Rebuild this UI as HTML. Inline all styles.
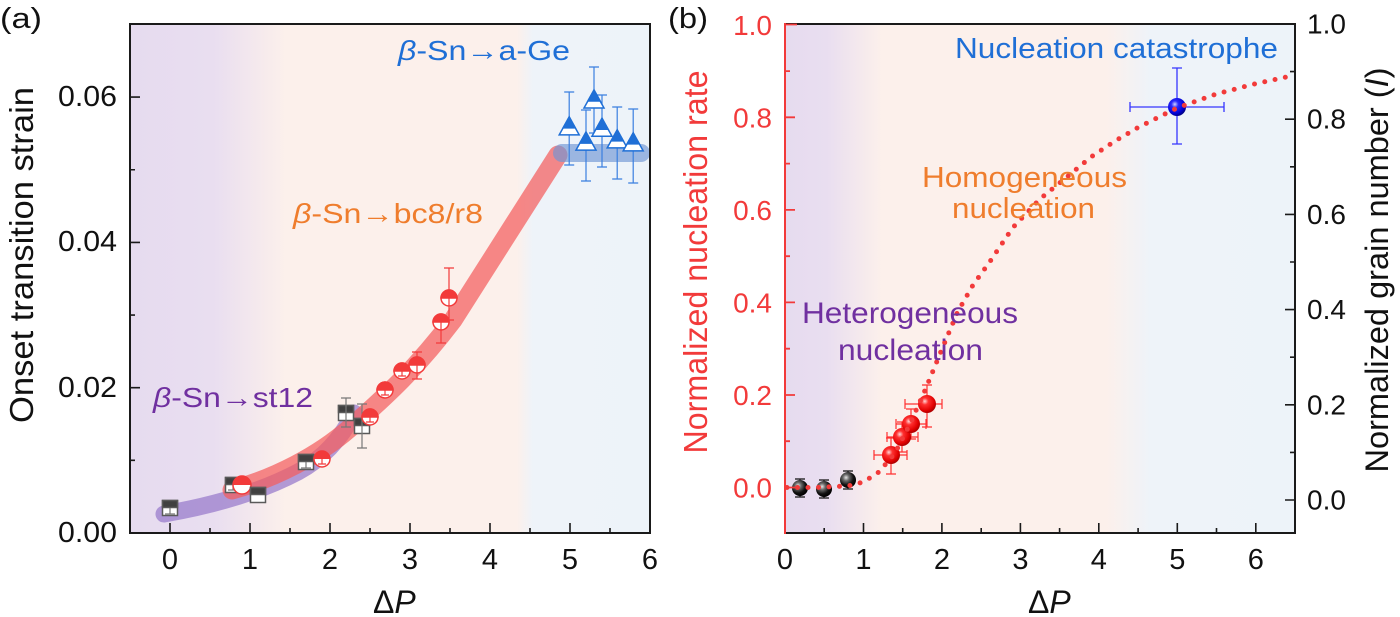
<!DOCTYPE html>
<html><head><meta charset="utf-8"><style>
html,body{margin:0;padding:0;background:#fff;}
svg{display:block;font-family:"Liberation Sans",Arial,sans-serif;}
</style></head><body>
<svg width="1400" height="617" viewBox="0 0 1400 617" xmlns="http://www.w3.org/2000/svg">
<defs>
<linearGradient id="bga" x1="0" x2="1" y1="0" y2="0">
<stop offset="0" stop-color="#e6dbef"/><stop offset="0.16" stop-color="#e9def0"/>
<stop offset="0.30" stop-color="#fcf0eb"/><stop offset="0.744" stop-color="#fcf0eb"/>
<stop offset="0.775" stop-color="#eef3f9"/><stop offset="1" stop-color="#edf3f9"/>
</linearGradient>
<linearGradient id="bgb" x1="0" x2="1" y1="0" y2="0">
<stop offset="0" stop-color="#e6dbef"/><stop offset="0.082" stop-color="#e9def0"/>
<stop offset="0.19" stop-color="#fcf0eb"/><stop offset="0.63" stop-color="#fcf0eb"/>
<stop offset="0.716" stop-color="#eef3f9"/><stop offset="1" stop-color="#edf3f9"/>
</linearGradient>
<radialGradient id="gk" cx="0.38" cy="0.35" r="0.65">
<stop offset="0" stop-color="#e8e8e8"/><stop offset="0.3" stop-color="#6a6a6a"/><stop offset="0.7" stop-color="#111"/><stop offset="1" stop-color="#000"/>
</radialGradient>
<radialGradient id="gr" cx="0.38" cy="0.35" r="0.65">
<stop offset="0" stop-color="#ffd6d6"/><stop offset="0.3" stop-color="#ff3030"/><stop offset="0.8" stop-color="#e00000"/><stop offset="1" stop-color="#b00000"/>
</radialGradient>
<radialGradient id="gb" cx="0.38" cy="0.35" r="0.65">
<stop offset="0" stop-color="#d0d4ff"/><stop offset="0.3" stop-color="#2a2aff"/><stop offset="0.8" stop-color="#0000d0"/><stop offset="1" stop-color="#00008a"/>
</radialGradient>
</defs>

<!-- ============ PANEL A ============ -->
<rect x="130" y="24" width="520" height="509" fill="url(#bga)"/>

<!-- bands -->
<path d="M164,514 C210,506 258,493 298,472 C324,458 342,437 354,413" fill="none" stroke="#9a7ccc" stroke-opacity="0.75" stroke-width="17" stroke-linecap="round" stroke-linejoin="round"/>
<path d="M232,490 C275,478 318,456 350,428 C380,401 412,374 453,320 L558,155" fill="none" stroke="#f45d5d" stroke-opacity="0.72" stroke-width="19" stroke-linecap="round" stroke-linejoin="round"/>
<line x1="562" y1="153" x2="641" y2="153" stroke="#6f95d4" stroke-opacity="0.65" stroke-width="18" stroke-linecap="round"/>

<!-- squares S1,S2 -->
<g stroke="#5a5a5a" stroke-width="1.5">
<rect x="162.5" y="500.5" width="15" height="15" fill="#fff"/><rect x="162.5" y="500.5" width="15" height="7" fill="#404040"/>
<rect x="225.5" y="477.5" width="15" height="15" fill="#fff"/><rect x="225.5" y="477.5" width="15" height="7" fill="#404040"/>
</g>
<g stroke="#777" stroke-width="1.2" fill="none">
<path d="M170 508v6M165 514h10M233 485v5M228 490h10"/>
</g>
<!-- circle C1 -->
<circle cx="242" cy="485" r="9" fill="#fff" stroke="#f23a3a" stroke-width="1.5"/>
<path d="M233 485A9 9 0 0 1 251 485Z" fill="#f23a3a"/>
<!-- squares S3,S4 -->
<g stroke="#5a5a5a" stroke-width="1.5">
<rect x="250.5" y="487.5" width="15" height="15" fill="#fff"/><rect x="250.5" y="487.5" width="15" height="7" fill="#404040"/>
<rect x="298.5" y="454.5" width="15" height="15" fill="#fff"/><rect x="298.5" y="454.5" width="15" height="7" fill="#404040"/>
</g>
<path d="M306 462v6M301 468h10" stroke="#777" stroke-width="1.2"/>
<!-- circle C2 -->
<circle cx="322" cy="459" r="8" fill="#fff" stroke="#f23a3a" stroke-width="1.5"/>
<path d="M314 459A8 8 0 0 1 330 459Z" fill="#f23a3a"/>
<path d="M322 459v5M318 464h8" stroke="#f23a3a" stroke-width="1.2"/>
<!-- squares S5,S6 with error bars -->
<g stroke="#5a5a5a" stroke-width="1.5">
<rect x="338.5" y="405.5" width="15" height="15" fill="#fff"/><rect x="338.5" y="405.5" width="15" height="7" fill="#404040"/>
<rect x="354.5" y="418.5" width="15" height="15" fill="#fff"/><rect x="354.5" y="418.5" width="15" height="7" fill="#404040"/>
</g>
<path d="M346 398v29M341 398h10M341 427h10M362 404v44M357 404h10M357 448h10" stroke="#777" stroke-width="1.2" fill="none"/>
<!-- circles C3..C8 -->
<g stroke="#f23a3a" stroke-width="1.5">
<circle cx="370" cy="417" r="8" fill="#fff"/><path d="M362 417A8 8 0 0 1 378 417Z" fill="#f23a3a"/>
<circle cx="385" cy="390" r="8" fill="#fff"/><path d="M377 390A8 8 0 0 1 393 390Z" fill="#f23a3a"/>
<circle cx="402" cy="371" r="8" fill="#fff"/><path d="M394 371A8 8 0 0 1 410 371Z" fill="#f23a3a"/>
<circle cx="417" cy="365" r="8" fill="#fff"/><path d="M409 365A8 8 0 0 1 425 365Z" fill="#f23a3a"/>
<circle cx="441" cy="322" r="8" fill="#fff"/><path d="M433 322A8 8 0 0 1 449 322Z" fill="#f23a3a"/>
<circle cx="449" cy="298" r="8" fill="#fff"/><path d="M441 298A8 8 0 0 1 457 298Z" fill="#f23a3a"/>
</g>
<path d="M370 417v5M366 422h8M385 390v5M381 395h8M402 371v5M398 376h8M417 352v27M412 352h10M412 379h10M441 322v21M436 343h10M449 268v52M444 268h10M444 320h10" stroke="#f23a3a" stroke-width="1.2" fill="none"/>

<!-- triangles -->
<g stroke="#3a7fe0" stroke-width="1.2" fill="none">
<path d="M569.2 92v73M564.2 92h10M564.2 165h10"/>
<path d="M586 110v71M581 110h10M581 181h10"/>
<path d="M594 67v66M589 67h10M589 133h10"/>
<path d="M602 95v72M597 95h10M597 167h10"/>
<path d="M617.2 107v72M612.2 107h10M612.2 179h10"/>
<path d="M633.2 109v74M628.2 109h10M628.2 183h10"/>
</g>
<g stroke="#1f6fd6" stroke-width="1.5">
<polygon points="569.2,116.9 579.2,134.9 559.2,134.9" fill="#fff"/><polygon points="569.2,116.9 575.3,127.9 563.1,127.9" fill="#1f6fd6"/>
<polygon points="586,132.1 596,150.1 576,150.1" fill="#fff"/><polygon points="586,132.1 592.1,143.1 579.9,143.1" fill="#1f6fd6"/>
<polygon points="594,90 604,108 584,108" fill="#fff"/><polygon points="594,90 600.1,101 587.9,101" fill="#1f6fd6"/>
<polygon points="602,118.3 612,136.3 592,136.3" fill="#fff"/><polygon points="602,118.3 608.1,129.3 595.9,129.3" fill="#1f6fd6"/>
<polygon points="617.2,129.9 627.2,147.9 607.2,147.9" fill="#fff"/><polygon points="617.2,129.9 623.3,140.9 611.1,140.9" fill="#1f6fd6"/>
<polygon points="633.2,132.9 643.2,150.9 623.2,150.9" fill="#fff"/><polygon points="633.2,132.9 639.3,143.9 627.1,143.9" fill="#1f6fd6"/>
</g>

<!-- frame A -->
<rect x="130" y="24" width="520" height="509" fill="none" stroke="#1a1a1a" stroke-width="2"/>
<path d="M170 533v-10M250 533v-10M330 533v-10M410 533v-10M490 533v-10M570 533v-10M210 533v-5M290 533v-5M370 533v-5M450 533v-5M530 533v-5M610 533v-5M130 97.1h10M130 242.4h10M130 387.7h10M130 169.75h5M130 315.05h5M130 460.35h5" stroke="#1a1a1a" stroke-width="1.6" fill="none"/>

<g font-size="29" fill="#111" text-anchor="end">
<text x="117" y="106" textLength="59" lengthAdjust="spacingAndGlyphs">0.06</text>
<text x="117" y="251" textLength="59" lengthAdjust="spacingAndGlyphs">0.04</text>
<text x="117" y="397" textLength="59" lengthAdjust="spacingAndGlyphs">0.02</text>
<text x="117" y="542" textLength="59" lengthAdjust="spacingAndGlyphs">0.00</text>
</g>
<g font-size="29" fill="#111" text-anchor="middle">
<text x="170" y="569">0</text><text x="250" y="569">1</text><text x="330" y="569">2</text><text x="410" y="569">3</text><text x="490" y="569">4</text><text x="570" y="569">5</text><text x="650" y="569">6</text>
</g>
<text x="373" y="613" font-size="32" fill="#111">Δ<tspan font-style="italic">P</tspan></text>
<text transform="translate(33,255) rotate(-90)" text-anchor="middle" font-size="33" fill="#111" textLength="336" lengthAdjust="spacingAndGlyphs">Onset transition strain</text>
<text x="0" y="28" font-size="29" fill="#111" textLength="42" lengthAdjust="spacingAndGlyphs">(a)</text>

<text x="398" y="60" font-size="28" fill="#1f6fd6" textLength="172" lengthAdjust="spacingAndGlyphs"><tspan font-style="italic">β</tspan>-Sn→a-Ge</text>
<text x="293" y="223" font-size="28" fill="#ef7d2d" textLength="190" lengthAdjust="spacingAndGlyphs"><tspan font-style="italic">β</tspan>-Sn→bc8/r8</text>
<text x="153" y="407" font-size="28" fill="#7030a0" textLength="160" lengthAdjust="spacingAndGlyphs"><tspan font-style="italic">β</tspan>-Sn→st12</text>

<!-- ============ PANEL B ============ -->
<rect x="785" y="24" width="510" height="509" fill="url(#bgb)"/>

<!-- black spheres -->
<path d="M800 479v18M795 479h10M795 497h10M824 480v18M819 480h10M819 498h10M848 471v18M843 471h10M843 489h10" stroke="#111" stroke-width="1.2" fill="none"/>
<circle cx="800" cy="488" r="8" fill="url(#gk)"/>
<circle cx="824" cy="489" r="8" fill="url(#gk)"/>
<circle cx="848" cy="480" r="8" fill="url(#gk)"/>

<!-- red spheres -->
<path d="M874 455h33M874 450v10M907 450v10M891 438v36M886 438h10M886 474h10
M887 437h31M887 432v10M918 432v10M902 422v30M897 422h10M897 452h10
M896 424h30M896 419v10M926 419v10M911 409v30M906 409h10M906 439h10
M905 404h37M905 399v10M942 399v10M927 385v42M922 385h10M922 427h10" stroke="#ff3030" stroke-width="1.2" fill="none"/>
<circle cx="891" cy="455" r="9" fill="url(#gr)"/>
<circle cx="902" cy="437" r="9" fill="url(#gr)"/>
<circle cx="911" cy="424" r="9" fill="url(#gr)"/>
<circle cx="927" cy="404" r="9" fill="url(#gr)"/>

<!-- blue sphere -->
<path d="M1130 107h94M1130 102v10M1224 102v10M1177 68v76M1172 68h10M1172 144h10" stroke="#3535ff" stroke-width="1.3" fill="none"/>
<circle cx="1177" cy="107" r="9" fill="url(#gb)"/>

<!-- dotted fit -->
<polyline points="787,487.5 816,487.5 848,486 863.5,482 879,472 895,453 910.5,423 926,388 942,349 957.6,312 973,285 989,263 1012.5,228 1040,199 1067.5,176.6 1091,157 1114.5,141.4 1138,127.5 1177,108 1216.5,94 1256,83.6 1295,75.2" fill="none" stroke="#f23a3a" stroke-width="5" stroke-linecap="round" stroke-linejoin="round" stroke-dasharray="0 10.5"/>

<!-- frame B -->
<path d="M785 24H1295V533H785" fill="none" stroke="#1a1a1a" stroke-width="2"/>
<line x1="785" y1="23" x2="785" y2="534" stroke="#f23a3a" stroke-width="2"/>
<path d="M863.5 533v-10M941.9 533v-10M1020.4 533v-10M1098.8 533v-10M1177.3 533v-10M1255.8 533v-10M824.2 533v-5M902.7 533v-5M981.2 533v-5M1059.6 533v-5M1138.1 533v-5M1216.5 533v-5
M1295 500h-10M1295 404.8h-10M1295 309.6h-10M1295 214.4h-10M1295 119.2h-10M1295 452.4h-5M1295 357.2h-5M1295 262h-5M1295 166.8h-5M1295 71.6h-5" stroke="#1a1a1a" stroke-width="1.6" fill="none"/>
<path d="M785 487.5h10M785 395h10M785 302.4h10M785 209.9h10M785 117.3h10M785 24.5h12M785 441.2h5M785 348.7h5M785 256.2h5M785 163.6h5M785 71.1h5" stroke="#f23a3a" stroke-width="1.8" fill="none"/>

<g font-size="28" fill="#f23a3a" text-anchor="end">
<text x="772" y="497.5">0.0</text><text x="772" y="405">0.2</text><text x="772" y="312.4">0.4</text><text x="772" y="219.9">0.6</text><text x="772" y="127.3">0.8</text><text x="772" y="34.8">1.0</text>
</g>
<g font-size="28" fill="#111">
<text x="1307" y="509.5">0.0</text><text x="1307" y="414.3">0.2</text><text x="1307" y="319">0.4</text><text x="1307" y="224">0.6</text><text x="1307" y="128.7">0.8</text><text x="1307" y="33.5">1.0</text>
</g>
<g font-size="29" fill="#111" text-anchor="middle">
<text x="785" y="569">0</text><text x="863.5" y="569">1</text><text x="941.9" y="569">2</text><text x="1020.4" y="569">3</text><text x="1098.8" y="569">4</text><text x="1177.3" y="569">5</text><text x="1255.8" y="569">6</text>
</g>
<text x="1028" y="613" font-size="32" fill="#111">Δ<tspan font-style="italic">P</tspan></text>
<text transform="translate(707,262) rotate(-90)" text-anchor="middle" font-size="33" fill="#f23a3a" textLength="383" lengthAdjust="spacingAndGlyphs">Normalized nucleation rate</text>
<text transform="translate(1388,270) rotate(-90)" text-anchor="middle" font-size="32" fill="#111" textLength="405" lengthAdjust="spacingAndGlyphs">Normalized grain number (<tspan font-style="italic">I</tspan>)</text>
<text x="668" y="28" font-size="29" fill="#111" textLength="40" lengthAdjust="spacingAndGlyphs">(b)</text>

<text x="955" y="58" font-size="29" fill="#1f6fd6" textLength="323" lengthAdjust="spacingAndGlyphs">Nucleation catastrophe</text>
<text x="922" y="187" font-size="29" fill="#ef7d2d" textLength="205" lengthAdjust="spacingAndGlyphs">Homogeneous</text>
<text x="952" y="218" font-size="29" fill="#ef7d2d" textLength="143" lengthAdjust="spacingAndGlyphs">nucleation</text>
<text x="802" y="323" font-size="30" fill="#7030a0" textLength="216" lengthAdjust="spacingAndGlyphs">Heterogeneous</text>
<text x="838" y="360" font-size="30" fill="#7030a0" textLength="145" lengthAdjust="spacingAndGlyphs">nucleation</text>
</svg>
</body></html>
